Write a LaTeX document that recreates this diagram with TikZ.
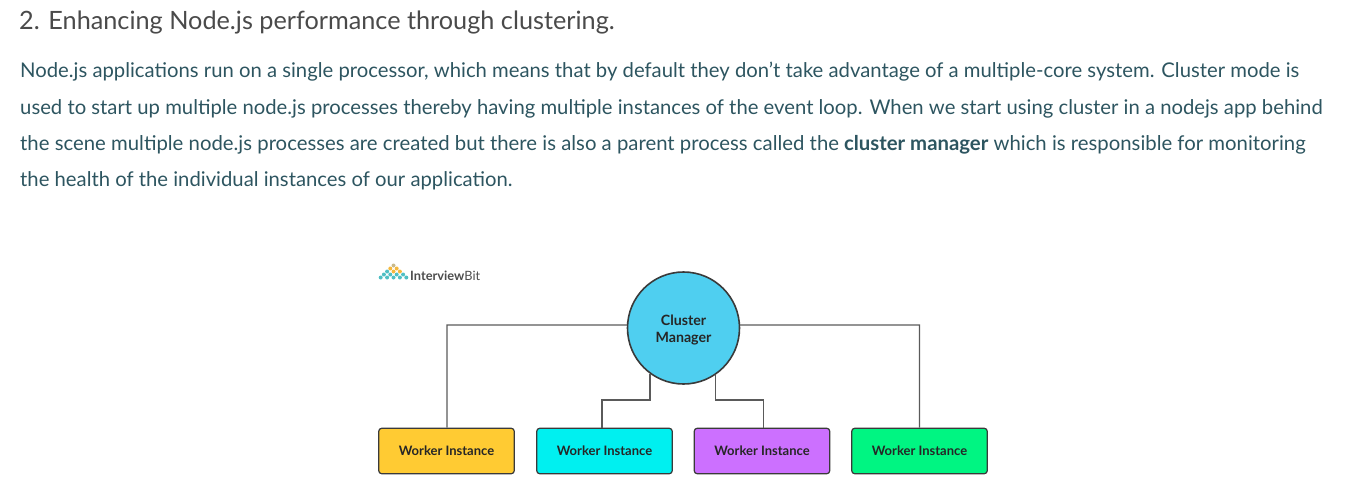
\documentclass[tikz,border=0pt]{standalone}
\usepackage{fontspec}
\setmainfont{Lato}
\definecolor{headc}{HTML}{4A4A4A}
\definecolor{bodyc}{HTML}{2D5560}
\definecolor{linec}{HTML}{5A5A5A}
\definecolor{edgec}{HTML}{3A3A3A}
\definecolor{cmc}{HTML}{4FCFF0}
\tikzset{
  x=1pt,y=-1pt,
  headline/.style={anchor=base west,inner sep=0pt,text=headc,font=\fontsize{25.25}{30}\selectfont},
  bodyline/.style={anchor=base west,inner sep=0pt,text=bodyc,font=\fontsize{20.27}{24}\selectfont},
  wire/.style={draw=linec,line width=1.3pt},
  worker/.style={draw=edgec,line width=1.2pt,rounded corners=3pt,minimum width=135.5pt,minimum height=45.5pt,inner sep=0pt,text=black!85,font=\fontsize{13}{15}\selectfont\bfseries},
  manager/.style={circle,draw=edgec,line width=1.6pt,fill=cmc,minimum size=112pt,inner sep=0pt,align=center,text=black!85,font=\fontsize{14.2}{17}\selectfont\bfseries},
  logotext/.style={anchor=base west,inner sep=0pt,text=black!70,font=\fontsize{12.8}{15}\selectfont},
}
\begin{document}
\begin{tikzpicture}
\useasboundingbox (0,0) rectangle (1352,485);
\node[headline] (title) at (19,29) {2. Enhancing Node.js performance through clustering.};
\node[bodyline] (l1) at (20,77) {Node.js applications run on a single processor, which means that by default they don’t take advantage of a multiple-core system. Cluster mode is};
\node[bodyline] (l2) at (20,114) {used to start up multiple node.js processes thereby having multiple instances of the event loop. When we start using cluster in a nodejs app behind};
\node[bodyline,font=\fontsize{20.33}{24}\selectfont] (l3) at (20,150) {the scene multiple node.js processes are created but there is also a parent process called the \textbf{cluster manager} which is responsible for monitoring};
\node[bodyline] (l4) at (20,186) {the health of the individual instances of our application.};
% logo
\foreach \px/\py/\c in {393.5/265.5/C9B98A,390.3/268.5/F5B83D,396.7/268.5/F5B83D,387.1/271.5/4FBFC4,393.5/271.5/F5B83D,399.9/271.5/F5B83D,383.9/274.5/4FBFC4,390.3/274.5/4FBFC4,396.7/274.5/4FBFC4,403.1/274.5/4FBFC4,380.7/277.5/4FBFC4,387.1/277.5/4FBFC4,393.5/277.5/4FBFC4,399.9/277.5/4FBFC4,406.3/277.5/4FBFC4}{
  \definecolor{dotc}{HTML}{\c}
  \fill[dotc] (\px,\py) circle[radius=2pt];
}
\node[logotext] (logo) at (410,280) {\textbf{Interview}Bit};
% nodes
\node[manager] (cm) at (683.5,328) {\rule{0pt}{15.5pt}Cluster\\Manager};
\node[worker,fill={rgb,255:red,255;green,203;blue,51}] (b1) at (446.5,451) {Worker Instance};
\node[worker,fill={rgb,255:red,0;green,240;blue,240}] (b2) at (604.5,451) {Worker Instance};
\node[worker,fill={rgb,255:red,204;green,112;blue,255}] (b3) at (762,451) {Worker Instance};
\node[worker,fill={rgb,255:red,0;green,245;blue,130}] (b4) at (919.5,451) {Worker Instance};
\coordinate (j2) at (602,400);
\coordinate (j3) at (763.5,400);
\coordinate (tl) at (447,325);
\coordinate (tr) at (919.5,325);
\draw[wire] (cm.177) -- (tl) -- (tl |- b1.north);
\draw[wire] (cm.3) -- (tr) -- (tr |- b4.north);
\draw[wire] (cm.234) |- (j2) -- (j2 |- b2.north);
\draw[wire] (cm.-56) |- (j3) -- (j3 |- b3.north);
\end{tikzpicture}
\end{document}
